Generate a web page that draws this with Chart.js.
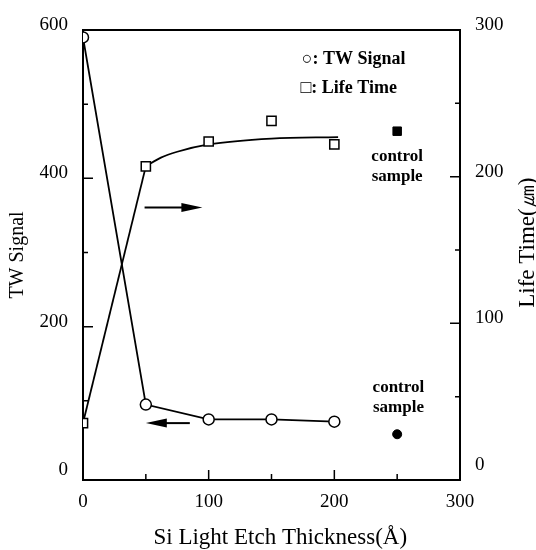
<!DOCTYPE html>
<html>
<head>
<meta charset="utf-8">
<script src="https://cdn.jsdelivr.net/npm/chart.js@4.4.1/dist/chart.umd.min.js"></script>
<style>
  html, body { margin: 0; padding: 0; background: #fff; }
  canvas { display: block; }
</style>
</head>
<body>
<canvas id="etchChart" width="536" height="550"></canvas>
<script>
// values
const thickness = [0, 50, 100, 150, 200];
const twSignal = [590, 95, 75, 75, 72];
const lifeTime = [32, 207, 224, 238, 222];

// hand-drawn fit through the life time points
const lifeFitX = [50, 62, 75, 100, 150, 203];
const lifeFitY = [207, 213, 217, 222, 226, 227];

const controlX = [250];
const controlTW = [55];
const controlLife = [231];

const xTicks = [0, 100, 200, 300];
const twTicks = [0, 200, 400, 600];
const lifeTicks = [0, 100, 200, 300];
const xMarks = [50, 100, 150, 200, 250];
const twMarks = [100, 200, 300, 400, 500];
const lifeMarks = [50, 100, 150, 200, 250];

const xTitle = 'Si Light Etch Thickness(\u00C5)';
const lifeTitle = 'Life Time(\u339B)';

const serif = 'Liberation Serif, Times New Roman, serif';
const black = '#000';

function pts(xs, ys) {
    return xs.map((x, i) => ({ x: x, y: ys[i] }));
}

// frame, inward tick marks, legend, notes, arrows and two axis titles
const decorations = {
    id: 'decorations',
    beforeDatasetsDraw(chart) {
        const { ctx, chartArea: a, scales } = chart;
        ctx.save();
        ctx.strokeStyle = black;
        ctx.lineWidth = 2;
        ctx.beginPath();
        ctx.moveTo(a.left, a.top);
        ctx.lineTo(a.right, a.top);
        ctx.stroke();

        ctx.lineWidth = 1.5;
        ctx.beginPath();
        xMarks.forEach(v => {
            const px = scales.x.getPixelForValue(v);
            const len = v % 100 === 0 ? 10 : 6;
            ctx.moveTo(px, a.bottom);
            ctx.lineTo(px, a.bottom - len);
        });
        twMarks.forEach(v => {
            const py = scales.y.getPixelForValue(v);
            const len = v % 200 === 0 ? 10 : 5;
            ctx.moveTo(a.left, py);
            ctx.lineTo(a.left + len, py);
        });
        lifeMarks.forEach(v => {
            const py = scales.y2.getPixelForValue(v);
            const len = v % 100 === 0 ? 10 : 5;
            ctx.moveTo(a.right, py);
            ctx.lineTo(a.right - len, py);
        });
        ctx.stroke();
        ctx.restore();
    },
    afterDatasetsDraw(chart) {
        const { ctx, scales } = chart;
        const x = scales.x, y = scales.y, y2 = scales.y2;
        ctx.save();
        ctx.fillStyle = black;
        ctx.strokeStyle = black;

        // legend
        ctx.font = 'bold 18px ' + serif;
        ctx.textAlign = 'left';
        ctx.textBaseline = 'middle';
        ctx.fillText('\u25CB: TW Signal', x.getPixelForValue(174), y2.getPixelForValue(280));
        ctx.fillText('\u25A1: Life Time', x.getPixelForValue(173), y2.getPixelForValue(260));

        // control sample notes
        ctx.font = 'bold 17px ' + serif;
        ctx.textAlign = 'center';
        ctx.fillText('control', x.getPixelForValue(250), y2.getPixelForValue(214));
        ctx.fillText('sample', x.getPixelForValue(250), y2.getPixelForValue(200));
        ctx.fillText('control', x.getPixelForValue(251), y.getPixelForValue(118));
        ctx.fillText('sample', x.getPixelForValue(251), y.getPixelForValue(91));

        // arrows showing which axis each curve belongs to
        function arrow(x0, x1, py) {
            const dir = Math.sign(x1 - x0);
            ctx.lineWidth = 2;
            ctx.beginPath();
            ctx.moveTo(x0, py);
            ctx.lineTo(x1 - dir * 14, py);
            ctx.stroke();
            ctx.beginPath();
            ctx.moveTo(x1, py);
            ctx.lineTo(x1 - dir * 21, py - 4.5);
            ctx.lineTo(x1 - dir * 21, py + 4.5);
            ctx.closePath();
            ctx.fill();
        }
        arrow(x.getPixelForValue(49), x.getPixelForValue(95), y2.getPixelForValue(179));
        arrow(x.getPixelForValue(85), x.getPixelForValue(50), y.getPixelForValue(70));

        // axis titles: bottom one sits a little right of centre,
        // right one reads bottom-to-top like the left one
        ctx.font = '23px ' + serif;
        ctx.textAlign = 'center';
        ctx.textBaseline = 'middle';
        ctx.fillText(xTitle, x.getPixelForValue(157), chart.height - 12);
        ctx.translate(528, y2.getPixelForValue(155));
        ctx.rotate(-Math.PI / 2);
        ctx.fillText(lifeTitle, 0, 0);
        ctx.restore();
    }
};

const tickFont = { family: serif, size: 19 };
const titleFont = { family: serif, size: 20 };

const ctx = document.getElementById('etchChart').getContext('2d');
const etchChart = new Chart(ctx, {
    type: 'scatter',
    data: {
        datasets: [
            {
                label: 'Life Time',
                data: pts(thickness, lifeTime),
                yAxisID: 'y2',
                showLine: false,
                pointStyle: 'rect',
                pointRadius: 6.5,
                pointBackgroundColor: '#fff',
                pointBorderColor: black,
                pointBorderWidth: 1.5
            },
            {
                label: 'TW Signal',
                data: pts(thickness, twSignal),
                yAxisID: 'y',
                showLine: true,
                borderColor: black,
                borderWidth: 1.8,
                pointStyle: 'circle',
                pointRadius: 5.5,
                pointBackgroundColor: '#fff',
                pointBorderColor: black,
                pointBorderWidth: 1.5
            },
            {
                label: 'control TW',
                data: pts(controlX, controlTW),
                yAxisID: 'y',
                showLine: false,
                pointStyle: 'circle',
                pointRadius: 4.5,
                pointBackgroundColor: black,
                pointBorderColor: black
            },
            {
                label: 'control Life',
                data: pts(controlX, controlLife),
                yAxisID: 'y2',
                showLine: false,
                pointStyle: 'rect',
                pointRadius: 6,
                pointBackgroundColor: black,
                pointBorderColor: black
            },
            {
                label: 'Life rise',
                data: pts(thickness.slice(0, 2), lifeTime.slice(0, 2)),
                yAxisID: 'y2',
                showLine: true,
                borderColor: black,
                borderWidth: 1.8,
                pointRadius: 0
            },
            {
                label: 'Life fit',
                data: pts(lifeFitX, lifeFitY),
                yAxisID: 'y2',
                showLine: true,
                borderColor: black,
                borderWidth: 1.8,
                tension: 0.4,
                cubicInterpolationMode: 'monotone',
                pointRadius: 0
            }
        ]
    },
    options: {
        responsive: false,
        animation: false,
        devicePixelRatio: 1,
        layout: { padding: { top: 30, left: 0, right: 0, bottom: 0 } },
        plugins: {
            legend: { display: false },
            tooltip: { enabled: false }
        },
        scales: {
            x: {
                type: 'linear',
                position: 'bottom',
                min: 0,
                max: 300,
                afterBuildTicks: s => { s.ticks = xTicks.map(v => ({ value: v })); },
                afterFit: s => { s.height = 70; },
                grid: { display: false, drawTicks: false },
                border: { display: true, color: black, width: 2 },
                ticks: { color: black, font: tickFont, padding: 11, maxRotation: 0 },
                title: { display: false, text: xTitle }
            },
            y: {
                type: 'linear',
                position: 'left',
                min: -6.7,
                max: 600,
                afterBuildTicks: s => { s.ticks = twTicks.map(v => ({ value: v })); },
                afterFit: s => { s.width = 83; },
                grid: { display: false, drawTicks: false },
                border: { display: true, color: black, width: 2 },
                ticks: { color: black, font: tickFont, padding: 15, labelOffset: -5 },
                title: {
                    display: true,
                    text: 'TW Signal',
                    color: black,
                    font: titleFont,
                    padding: { top: 6, bottom: 0 }
                }
            },
            y2: {
                type: 'linear',
                position: 'right',
                min: -6.8,
                max: 300,
                afterBuildTicks: s => { s.ticks = lifeTicks.map(v => ({ value: v })); },
                afterFit: s => { s.width = 76; },
                grid: { display: false, drawTicks: false },
                border: { display: true, color: black, width: 2 },
                ticks: { color: black, font: tickFont, padding: 15, labelOffset: -5 },
                title: { display: false, text: lifeTitle }
            }
        }
    },
    plugins: [decorations]
});
</script>
</body>
</html>
